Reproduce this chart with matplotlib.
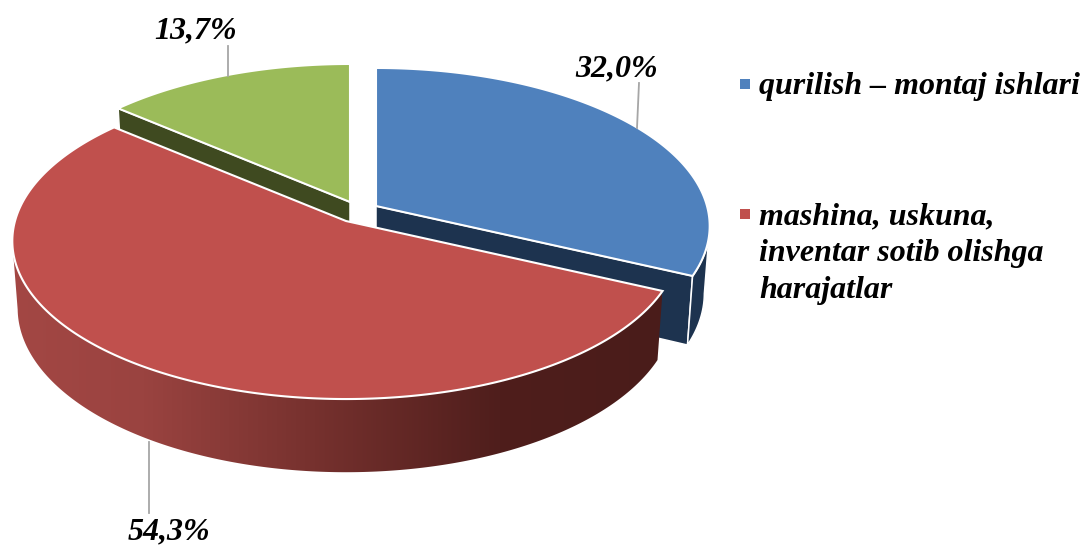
import numpy as np
import matplotlib
matplotlib.use("Agg")
import matplotlib.pyplot as plt
from matplotlib.colors import LinearSegmentedColormap
from matplotlib.patches import Polygon

names = ["qurilish – montaj ishlari", "mashina, uskuna,\ninventar sotib olishga\nharajatlar", None]
shares = [32.0, 54.3, 13.7]

top_colors = ["#4f81bd", "#c0504d", "#9bbb59"]
side_colors = ["#1d334f", "#4a1c1a", "#3f4a20"]

# pie geometry in image pixels, perspective squash of a unit circle
RX, RY, K = 331.0, 155.5, 0.1266
DEPTH, BOTTOM_SCALE = 66.4, 0.984
apexes = [(376, 206), (346, 221), (350, 202)]
draw_order = [2, 0, 1]
cut_edge = [-1, None, 0]  # which straight side of each slice faces the viewer
label_pos = [(617, 69), (169, 532), (196, 31)]
leaders = [((639, 83), (637, 128)), ((149, 442), (149, 513)), ((228, 46), (228, 76))]
legend_y = [94, 224]


def project(theta, apex, bottom=False):
    x, y = np.sin(theta), -np.cos(theta)
    w = 1 - K * y
    px, py = RX * x / w, RY * y / w
    if bottom:
        return apex[0] + BOTTOM_SCALE * px, apex[1] + BOTTOM_SCALE * py + DEPTH / w
    return apex[0] + px, apex[1] + py


def xy(xs, ys):
    return np.column_stack([xs, ys])


fig = plt.figure(figsize=(10.84, 5.47), dpi=100)
ax = fig.add_axes([0, 0, 1, 1])
ax.set_xlim(0, 1084)
ax.set_ylim(547, 0)
ax.axis("off")

edges = np.radians(np.cumsum([0] + shares) * 3.6)
wall_cmap = LinearSegmentedColormap.from_list(
    "wall", [(0, "#a34744"), (0.2, "#9a4340"), (0.45, "#78322f"), (0.75, "#4f1e1c"), (1, "#4a1c1a")])

# where the rim turns away from the viewer (silhouette of the wall)
circle = np.linspace(0, 2 * np.pi, 2000)
rim_x = project(circle, (0, 0))[0]
t_right, t_left = circle[np.argmax(rim_x)], circle[np.argmin(rim_x)]

z = 1
for i in draw_order:
    apex = apexes[i]
    t = np.linspace(edges[i], edges[i + 1], 300)
    tx, ty = project(t, apex)
    bx, by = project(t, apex, bottom=True)
    cx, cy = apex

    # flat cut face
    if cut_edge[i] is not None:
        k = cut_edge[i]
        face = xy([cx, tx[k], bx[k], cx], [cy, ty[k], by[k], cy + DEPTH])
        ax.add_patch(Polygon(face, closed=True, fc=side_colors[i], ec="white", lw=1.1, zorder=z))
    z += 1

    # outer wall, only the part that faces the viewer
    near = (t >= t_right) & (t <= t_left)
    if near.any():
        wall = np.vstack([xy(tx[near], ty[near]), xy(bx[near], by[near])[::-1]])
        if i == 1:
            patch = Polygon(wall, closed=True, fc="none", ec="none", zorder=z)
            ax.add_patch(patch)
            grad = np.linspace(0, 1, 256).reshape(1, -1)
            im = ax.imshow(grad, cmap=wall_cmap, extent=(13, 662, 480, 200), aspect="auto", zorder=z)
            im.set_clip_path(patch)
        else:
            ax.add_patch(Polygon(wall, closed=True, fc=side_colors[i], ec="white", lw=1.1, zorder=z))
    z += 1

    # top face
    top = np.vstack([[cx, cy], xy(tx, ty)])
    ax.add_patch(Polygon(top, closed=True, fc=top_colors[i], ec="white", lw=1.5, zorder=z))
    z += 1

ax.set_xlim(0, 1084)
ax.set_ylim(547, 0)

font = dict(family="Liberation Serif", weight="bold", style="italic", size=23, color="black")

for i in range(3):
    p, q = leaders[i]
    ax.plot([p[0], q[0]], [p[1], q[1]], color="#a6a6a6", lw=1.3, zorder=z)
    label = f"{shares[i]:.1f}%".replace(".", ",")
    ax.text(label_pos[i][0], label_pos[i][1], label, ha="center", va="center", zorder=z + 1, **font)

for i in range(2):
    ax.scatter([745], [legend_y[i] - 10.5], marker="s", s=58, color=top_colors[i], linewidths=0, zorder=z)
    for n, line in enumerate(names[i].split("\n")):
        ax.text(759, legend_y[i] + n * 37, line, ha="left", va="baseline", zorder=z + 1, **font)

fig.savefig("out.png", dpi=100)
